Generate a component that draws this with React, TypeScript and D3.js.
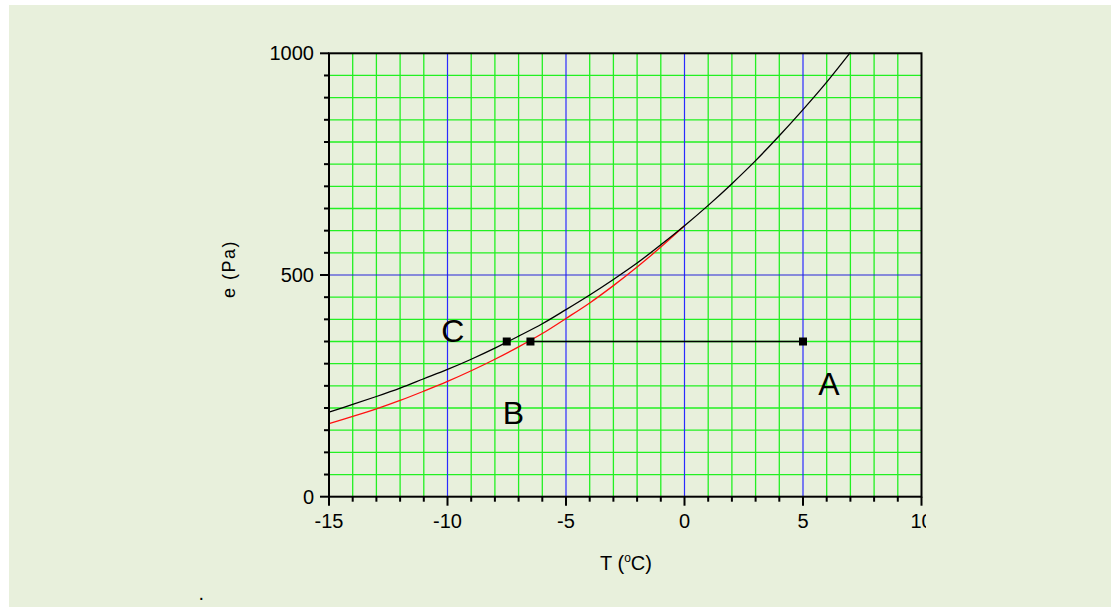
import React from "react";
import * as d3 from "d3";

// Saturation vapour pressure (Pa) read at whole degrees Celsius
const tempsWater = [-15, -14, -13, -12, -11, -10, -9, -8, -7, -6, -5, -4, -3, -2, -1, 0, 1, 2, 3, 4, 5, 6, 7];
const eWater = [191, 208, 226, 245, 266, 287, 310, 335, 362, 390, 422, 455, 490, 527, 568, 611, 657, 706, 758, 814, 873, 935, 1002];

const tempsIce = [-15, -14, -13, -12, -11, -10, -9, -8, -7, -6, -5, -4, -3, -2, -1, 0];
const eIce = [165, 181, 198, 217, 238, 260, 284, 310, 338, 368, 402, 437, 476, 518, 563, 611];

// Marked states: C (dew point), frost point, A (air parcel)
const markerTemps = [-7.5, -6.5, 5];
const markerE = [350, 350, 350];

const xTicks = [-15, -10, -5, 0, 5, 10];
const yTicks = [0, 500, 1000];

const W = 1111;
const H = 607;
const left = 329;
const right = 921.5;
const top = 53.3;
const bottom = 496.7;

export default function App() {
  const x = d3.scaleLinear().domain([-15, 10]).range([left, right]);
  const y = d3.scaleLinear().domain([0, 1000]).range([bottom, top]);

  const minorX = d3.range(-14, 10, 1).filter((v) => v % 5 !== 0);
  const majorX = [-10, -5, 0, 5];
  const minorY = d3.range(50, 1000, 50).filter((v) => v !== 500);

  const line = d3
    .line<[number, number]>()
    .x((d) => x(d[0]))
    .y((d) => y(d[1]))
    .curve(d3.curveCatmullRom.alpha(0.5));

  const water = line(tempsWater.map((t, i) => [t, eWater[i]] as [number, number])) || "";
  const ice = line(tempsIce.map((t, i) => [t, eIce[i]] as [number, number])) || "";

  const font = "Arial, 'Liberation Sans', sans-serif";
  const green = "#22f022";
  const blue = "#2a2aff";

  return (
    <div style={{ position: "absolute", left: 0, top: 0 }}>
      <svg width={W} height={H} style={{ display: "block" }}>
        <defs>
          <clipPath id="labelClip">
            <rect x={0} y={0} width={926} height={H} />
          </clipPath>
        </defs>
        <rect x={9} y={5} width={W - 9} height={H - 5} fill="#e8f0dc" />

        {/* grid */}
        {minorX.map((v) => (
          <line key={"gx" + v} x1={x(v)} x2={x(v)} y1={top} y2={bottom} stroke={green} strokeWidth={1.3} />
        ))}
        {minorY.map((v) => (
          <line key={"gy" + v} x1={left} x2={right} y1={y(v)} y2={y(v)} stroke={green} strokeWidth={1.3} />
        ))}
        {majorX.map((v) => (
          <line key={"bx" + v} x1={x(v)} x2={x(v)} y1={top} y2={bottom} stroke={blue} strokeWidth={1.2} />
        ))}
        <line x1={left} x2={right} y1={y(500)} y2={y(500)} stroke="#2424d8" strokeWidth={1.2} />

        {/* curves */}
        <path d={ice} fill="none" stroke="#ff1010" strokeWidth={1.3} />
        <path d={water} fill="none" stroke="#000" strokeWidth={1.3} />

        {/* isobaric cooling line */}
        <line
          x1={x(markerTemps[1])}
          x2={x(markerTemps[2])}
          y1={y(markerE[1])}
          y2={y(markerE[2])}
          stroke="#000"
          strokeWidth={1.4}
        />
        {markerTemps.map((t, i) => (
          <rect key={"m" + i} x={x(t) - 4} y={y(markerE[i]) - 4} width={8} height={8} fill="#000" />
        ))}

        {/* frame */}
        <rect x={left} y={top} width={right - left} height={bottom - top} fill="none" stroke="#000" strokeWidth={2} />

        {/* ticks */}
        {d3.range(-15, 11, 1).map((v) => (
          <line
            key={"tx" + v}
            x1={x(v)}
            x2={x(v)}
            y1={bottom}
            y2={bottom + (v % 5 === 0 ? 9 : 5)}
            stroke="#000"
            strokeWidth={2}
          />
        ))}
        {d3.range(0, 1001, 50).map((v) => (
          <line
            key={"ty" + v}
            x1={left}
            x2={left - (v % 500 === 0 ? 9 : 5)}
            y1={y(v)}
            y2={y(v)}
            stroke="#000"
            strokeWidth={2}
          />
        ))}

        {/* tick labels */}
        <g fontFamily={font} fontSize={20} fill="#000" clipPath="url(#labelClip)">
          {xTicks.map((v) => (
            <text key={"lx" + v} x={x(v)} y={528} textAnchor="middle">
              {v}
            </text>
          ))}
        </g>
        <g fontFamily={font} fontSize={20} fill="#000">
          {yTicks.map((v) => (
            <text key={"ly" + v} x={314} y={y(v) + 7} textAnchor="end">
              {v}
            </text>
          ))}
        </g>

        {/* axis titles */}
        <text
          fontFamily={font}
          fontSize={18}
          textAnchor="middle"
          transform={`translate(235, 269) rotate(-90)`}
          letterSpacing={1.5}
        >
          e (Pa)
        </text>
        <text fontFamily={font} fontSize={20} x={626} y={570} textAnchor="middle">
          T (
          <tspan fontSize={12} dy={-8}>
            o
          </tspan>
          <tspan dy={8}>C)</tspan>
        </text>
        <text fontFamily={font} fontSize={20} x={198.5} y={600}>
          .
        </text>

        {/* point labels */}
        <g fontFamily={font} fontSize={32} fill="#000" textAnchor="middle">
          <text x={x(markerTemps[0]) - 54} y={y(markerE[0])}>
            C
          </text>
          <text x={x(markerTemps[1]) - 17} y={y(markerE[1]) + 82}>
            B
          </text>
          <text x={x(markerTemps[2]) + 26} y={y(markerE[2]) + 53}>
            A
          </text>
        </g>
      </svg>
    </div>
  );
}
